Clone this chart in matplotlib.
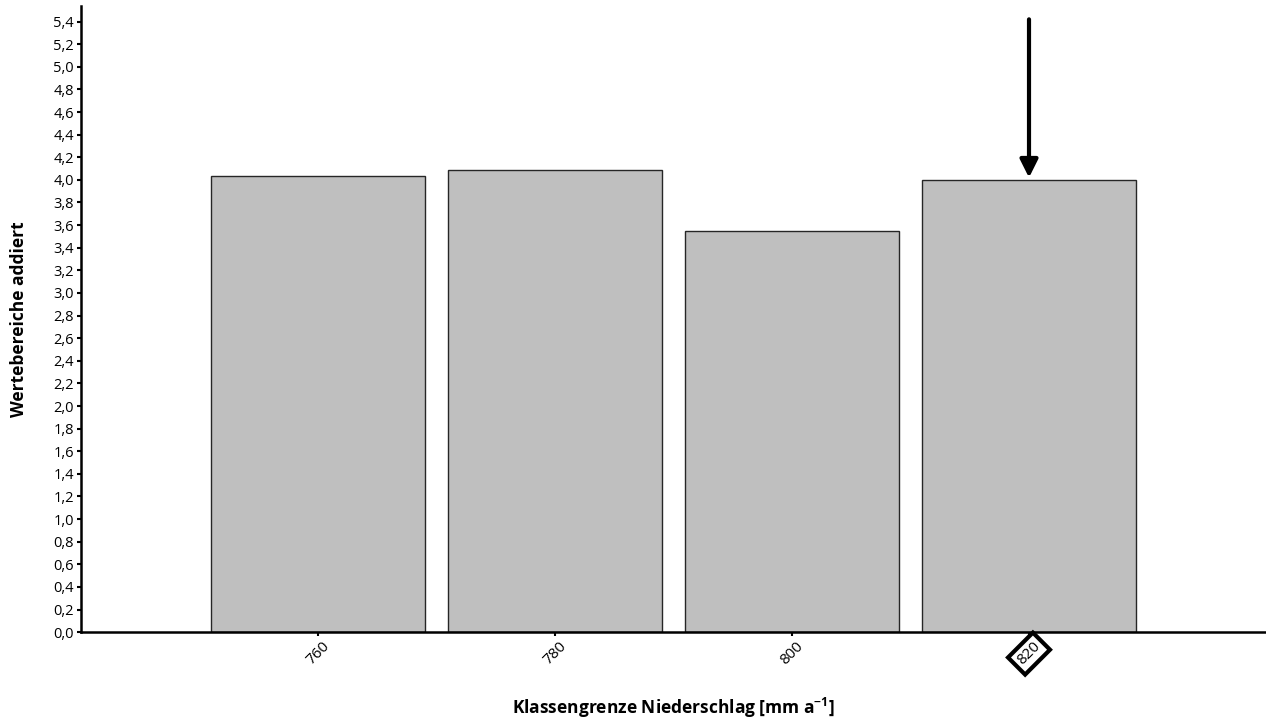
import numpy as np
import matplotlib.pyplot as plt

# Klassengrenzen und addierte Wertebereiche
klassen = ["760", "780", "800", "820"]
werte = [4.03, 4.09, 3.55, 4.00]
markiert = "820"

plt.rcParams['font.family'] = ['Open Sans', 'DejaVu Sans']

fig = plt.figure(figsize=(12.66, 7.2), dpi=100)
ax = fig.add_axes([0.064, 0.122, 0.936, 0.87])

x = np.arange(len(klassen))
ax.bar(x, werte, width=0.9, color='#bfbfbf', edgecolor='#262626', linewidth=1.0)

ax.set_xlim(-1.0, 4.0)
ax.set_ylim(0, 5.54)
yt = np.arange(0, 5.41, 0.2)
ax.set_yticks(yt)
ax.set_yticklabels([f"{v:.1f}".replace('.', ',') for v in yt], fontsize=10.5)

ax.set_xticks(x)
ax.set_xticklabels(klassen, rotation=45, ha='center', va='top', fontsize=11)
for lbl in ax.get_xticklabels():
    if lbl.get_text() == markiert:
        lbl.set_bbox(dict(boxstyle='square,pad=0.3', facecolor='white', edgecolor='black', linewidth=3))

for s in ['top', 'right']:
    ax.spines[s].set_visible(False)
for s in ['left', 'bottom']:
    ax.spines[s].set_linewidth(1.8)
ax.tick_params(axis='both', direction='out', length=3, width=1.5, pad=2)

ax.set_ylabel("Wertebereiche addiert", fontsize=12.5, fontweight='bold', labelpad=18)
ax.set_xlabel("Klassengrenze Niederschlag [mm a$^{\\mathregular{-1}}$]", fontsize=12.5, fontweight='bold', labelpad=20)

# Pfeil auf die markierte Klasse
i = klassen.index(markiert)
ax.annotate("", xy=(i, werte[i] + 0.02), xytext=(i, 5.42),
            arrowprops=dict(arrowstyle='-|>,head_length=0.6,head_width=0.3', color='black', lw=3,
                            mutation_scale=18, shrinkA=0, shrinkB=0))

fig.savefig("out.png", dpi=100)
